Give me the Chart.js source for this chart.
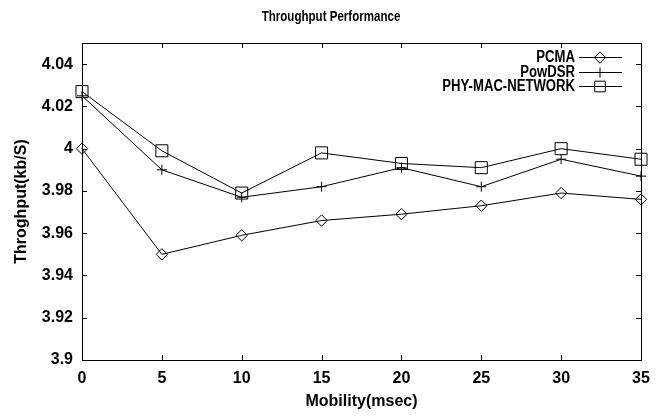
<!DOCTYPE html>
<html>
<head>
<meta charset="utf-8">
<script src="https://cdn.jsdelivr.net/npm/chart.js@4/dist/chart.umd.min.js"></script>
<style>
  html, body { margin: 0; padding: 0; background: #fff; }
  #wrap { width: 662px; height: 417px; }
</style>
</head>
<body>
<div id="wrap"><canvas id="tputChart"></canvas></div>
<script>
// === DATA ===
const mobility = [0, 5, 10, 15, 20, 25, 30, 35];
const pcma     = [4.000, 3.950, 3.959, 3.966, 3.969, 3.973, 3.979, 3.976];
const powDsr   = [4.025, 3.990, 3.977, 3.982, 3.991, 3.982, 3.995, 3.987];
const phyMac   = [4.027, 3.999, 3.979, 3.998, 3.993, 3.991, 4.000, 3.995];
const seriesNames = ['PCMA', 'PowDSR', 'PHY-MAC-NETWORK'];
const markers = ['rectRot', 'cross', 'rect'];
const markerRadius = { rectRot: 5.7, cross: 5, rect: 8.5 };
const chartTitle = 'Throughput Performance';

const FONT = 'Liberation Sans, Arial, Helvetica, sans-serif';

function toPoints(vals) { return mobility.map((m, i) => ({ x: m, y: vals[i] })); }

// condensed text: draw with a horizontal squeeze around the anchor point
function narrowText(ctx, text, x, y, squeeze) {
    ctx.save();
    ctx.translate(x, y);
    ctx.scale(squeeze, 1);
    ctx.fillText(text, 0, 0);
    ctx.restore();
}

// gnuplot style box with inward ticks, title, and the key in the top right
const gnuFrame = {
    id: 'gnuFrame',
    afterDraw(chart) {
        const { ctx, chartArea: a, scales } = chart;
        const len = 5;
        ctx.save();
        ctx.strokeStyle = '#000';
        ctx.lineWidth = 1;
        ctx.strokeRect(Math.round(a.left) + 0.5, Math.round(a.top) + 0.5, Math.round(a.right - a.left), Math.round(a.bottom - a.top));
        ctx.beginPath();
        scales.x.ticks.forEach(t => {
            const px = Math.round(scales.x.getPixelForValue(t.value)) + 0.5;
            ctx.moveTo(px, a.bottom); ctx.lineTo(px, a.bottom - len);
            ctx.moveTo(px, a.top); ctx.lineTo(px, a.top + len);
        });
        scales.y.ticks.forEach(t => {
            const py = Math.round(scales.y.getPixelForValue(t.value)) + 0.5;
            ctx.moveTo(a.left, py); ctx.lineTo(a.left + len, py);
            ctx.moveTo(a.right, py); ctx.lineTo(a.right - len, py);
        });
        ctx.stroke();

        // title, centred on the whole canvas
        ctx.fillStyle = '#000';
        ctx.textBaseline = 'middle';
        ctx.textAlign = 'center';
        ctx.font = 'bold 15px ' + FONT;
        narrowText(ctx, chartTitle, chart.width / 2, 17, 0.77);

        // key
        ctx.font = 'bold 16px ' + FONT;
        ctx.textAlign = 'right';
        chart.data.datasets.forEach((ds, i) => {
            const y = Math.round(57 + i * 14.5) + 0.5;
            ctx.fillStyle = '#000';
            narrowText(ctx, ds.label, 575, y, 0.82);
            ctx.beginPath();
            ctx.moveTo(579, y); ctx.lineTo(622, y);
            ctx.stroke();
            ctx.fillStyle = 'rgba(0,0,0,0)';
            const r = ds.pointStyle === 'rect' ? 7.5 : ds.pointRadius;
            Chart.helpers.drawPoint(ctx, { pointStyle: ds.pointStyle, radius: r, rotation: 0, borderWidth: 1 }, 600, y);
        });
        ctx.restore();
    }
};

const datasets = [pcma, powDsr, phyMac].map((vals, i) => ({
    label: seriesNames[i],
    data: toPoints(vals),
    borderColor: '#000',
    backgroundColor: 'transparent',
    borderWidth: 1,
    pointStyle: markers[i],
    pointRadius: markerRadius[markers[i]],
    pointBorderColor: '#000',
    pointBackgroundColor: 'transparent',
    pointBorderWidth: 1,
    tension: 0,
    clip: false
}));

new Chart(document.getElementById('tputChart').getContext('2d'), {
    type: 'line',
    data: { datasets },
    options: {
        responsive: true, maintainAspectRatio: false, animation: false,
        layout: { padding: { left: 0, right: 21, top: 43, bottom: 0 } },
        plugins: {
            legend: { display: false },
            tooltip: { enabled: false },
            title: { display: false }
        },
        scales: {
            x: {
                type: 'linear', min: 0, max: 35,
                grid: { display: false, drawTicks: false, tickLength: 0 }, border: { display: false },
                ticks: { stepSize: 5, color: '#000', padding: 9, maxRotation: 0, font: { family: FONT, size: 16, weight: 'bold' } },
                title: { display: true, text: 'Mobility(msec)', color: '#000', padding: { top: 0, bottom: 6 }, font: { family: FONT, size: 16, weight: 'bold' } },
                afterFit: s => { s.height = 57; }
            },
            y: {
                min: 3.9, max: 4.05,
                grid: { display: false, drawTicks: false, tickLength: 0 }, border: { display: false },
                ticks: { stepSize: 0.02, includeBounds: false, color: '#000', padding: 9, font: { family: FONT, size: 16, weight: 'bold' },
                    callback: v => Number(v.toFixed(2)).toString() },
                title: { display: true, text: 'Throghput(kb/S)', color: '#000', padding: { top: 12, bottom: 0 }, font: { family: FONT, size: 16, weight: 'bold' } },
                afterFit: s => { s.width = 82; }
            }
        }
    },
    plugins: [gnuFrame]
});
</script>
</body>
</html>
